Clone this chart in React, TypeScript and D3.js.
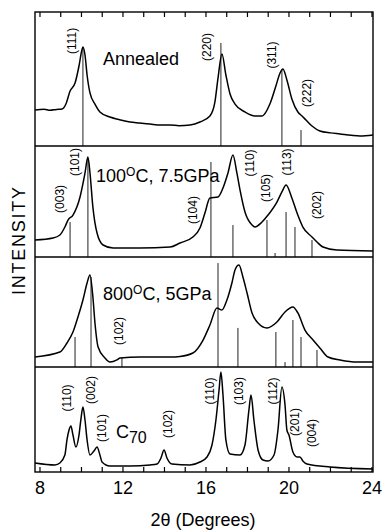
import * as d3 from 'd3';
import React from 'react';

type Pt = [number, number];

// 2-theta (deg) vs intensity (% of panel height)
const annealedCurve: Pt[] = [
  [7.76, 26.9], [8.2, 27.4], [8.48, 26.6], [8.8, 27.3], [9.06, 27.6], [9.25, 31.3], [9.45, 41.0],
  [9.69, 47.0], [9.88, 59.7], [10.02, 71.6], [10.07, 73.9], [10.17, 67.9], [10.27, 53.0],
  [10.41, 39.6], [10.65, 31.3], [10.89, 25.4], [11.37, 21.6], [11.8, 19.8], [12.34, 17.9],
  [12.8, 17.2], [13.3, 16.4], [13.8, 15.6], [14.27, 15.7], [14.7, 15.2], [15.23, 15.7],
  [15.71, 17.9], [16.19, 22.4], [16.43, 32.8], [16.58, 50.7], [16.77, 68.7], [16.96, 53.0],
  [17.16, 38.8], [17.4, 31.3], [17.88, 25.4], [18.36, 22.4], [18.7, 22.4], [19.08, 31.3],
  [19.37, 44.8], [19.57, 54.5], [19.71, 57.5], [19.9, 49.3], [20.14, 35.1], [20.43, 25.4],
  [20.63, 22.4], [20.82, 19.4], [21.11, 14.9], [21.49, 11.2], [22.0, 9.8], [22.46, 9.0],
  [23.0, 8.0], [23.42, 7.5], [24.05, 8.2],
];
const annealedSticks: Pt[] = [[10.07, 73.9], [16.72, 76.9], [19.66, 56.7], [20.58, 11.9]];
const annealedLabels: [string, number, number][] = [
  ['(111)', 9.54, 78.4], ['(220)', 16.05, 73.9], ['(311)', 19.18, 67.9], ['(222)', 20.87, 39.6],
];

const hp100Curve: Pt[] = [
  [7.76, 15.3], [8.63, 17.1], [8.96, 19.8], [9.2, 27.0], [9.35, 33.3], [9.59, 37.8], [9.93, 54.1],
  [10.17, 75.7], [10.31, 90.1], [10.41, 75.7], [10.55, 45.0], [10.75, 21.6], [11.04, 10.8],
  [11.52, 8.1], [12.82, 8.1], [14.27, 9.0], [14.75, 12.6], [15.37, 18.0], [15.71, 26.1],
  [15.95, 39.6], [16.19, 53.2], [16.58, 54.1], [16.82, 62.2], [17.06, 75.7], [17.3, 91.9],
  [17.49, 75.7], [17.64, 60.4], [17.88, 40.5], [18.22, 28.8], [18.36, 27.0], [18.7, 31.5],
  [18.99, 37.8], [19.42, 49.5], [19.66, 58.6], [19.86, 64.9], [20.14, 53.2], [20.39, 39.6],
  [20.67, 27.0], [21.11, 18.0], [21.35, 13.5], [21.64, 9.0], [22.31, 6.3], [24.05, 5.4],
];
const hp100Sticks: Pt[] = [
  [9.45, 31.5], [10.31, 87.4], [16.24, 85.6], [17.3, 28.8], [18.94, 33.3], [19.33, 3.6],
  [19.86, 40.5], [20.29, 27.0], [21.11, 15.3],
];
const hp100Labels: [string, number, number][] = [
  ['(003)', 8.96, 52.3], ['(101)', 9.69, 85.6], ['(104)', 15.37, 42.3], ['(110)', 18.12, 84.7],
  ['(105)', 18.89, 62.2], ['(113)', 19.9, 85.6], ['(202)', 21.35, 46.8],
];

const hp800Curve: Pt[] = [
  [7.76, 9.1], [8.96, 13.6], [9.3, 21.8], [9.59, 31.8], [9.83, 45.5], [10.07, 60.9], [10.27, 76.4],
  [10.41, 83.6], [10.55, 63.6], [10.65, 40.0], [10.8, 18.2], [11.13, 8.2], [11.37, 4.5],
  [11.71, 6.4], [11.86, 8.2], [12.82, 9.1], [14.27, 9.1], [14.75, 9.6], [15.37, 12.7],
  [15.86, 24.5], [16.19, 38.2], [16.53, 53.6], [16.77, 51.8], [17.01, 60.9], [17.25, 76.4],
  [17.4, 88.2], [17.59, 92.7], [17.78, 81.8], [17.98, 67.3], [18.22, 49.1], [18.51, 40.0],
  [18.94, 35.5], [19.42, 40.9], [19.81, 50.0], [20.19, 54.5], [20.43, 49.1], [20.77, 33.6],
  [21.16, 24.5], [21.49, 17.3], [21.88, 9.1], [22.46, 6.4], [23.28, 4.5], [24.05, 4.5],
];
const hp800Sticks: Pt[] = [
  [9.69, 27.3], [10.46, 81.8], [11.95, 8.2], [16.58, 94.5], [17.54, 35.5], [19.37, 31.8],
  [19.81, 4.5], [20.19, 42.7], [20.58, 27.3], [21.35, 15.5],
];
const hp800Labels: [string, number, number][] = [['(102)', 11.81, 32.7]];

const c70Curve: Pt[] = [
  [7.76, 8.6], [8.72, 6.7], [8.96, 8.6], [9.2, 16.2], [9.3, 30.5], [9.4, 40.0], [9.49, 43.8],
  [9.59, 35.2], [9.73, 23.8], [9.88, 35.2], [9.98, 51.4], [10.07, 61.9], [10.17, 49.5],
  [10.27, 30.5], [10.41, 16.2], [10.6, 20.0], [10.75, 23.8], [10.89, 16.2], [10.99, 9.5],
  [11.37, 5.7], [12.34, 5.7], [13.3, 6.7], [13.64, 7.6], [13.83, 13.3], [13.98, 21.0],
  [14.12, 13.3], [14.36, 7.6], [15.23, 6.7], [15.71, 9.5], [16.05, 14.3], [16.29, 25.7],
  [16.48, 49.5], [16.63, 78.1], [16.72, 95.2], [16.82, 73.3], [16.96, 30.5], [17.16, 17.1],
  [17.64, 16.2], [17.88, 25.7], [18.07, 59.0], [18.17, 73.3], [18.31, 49.5], [18.51, 21.0],
  [18.75, 11.4], [18.99, 10.5], [19.28, 16.2], [19.47, 40.0], [19.66, 81.0], [19.81, 63.8],
  [19.9, 40.0], [20.0, 35.2], [20.19, 19.0], [20.39, 14.3], [20.53, 14.3], [20.67, 10.5],
  [20.87, 7.6], [21.98, 4.8], [24.05, 2.9],
];
const c70Labels: [string, number, number][] = [
  ['(110)', 9.3, 70.5], ['(002)', 10.46, 78.1], ['(101)', 10.99, 41.9], ['(102)', 14.17, 45.7],
  ['(110)', 16.19, 77.1], ['(103)', 17.59, 77.1], ['(112)', 19.23, 77.1], ['(201)', 20.29, 47.6],
  ['(004)', 21.11, 37.1],
];

const xTicks = d3.range(8, 25, 1);
const xTickLabels = [8, 12, 16, 20, 24];

const font = '"Liberation Sans", Arial, Helvetica, sans-serif';

const panels = [
  { curve: annealedCurve, sticks: annealedSticks, labels: annealedLabels, title: 'annealed' },
  { curve: hp100Curve, sticks: hp100Sticks, labels: hp100Labels, title: '100' },
  { curve: hp800Curve, sticks: hp800Sticks, labels: hp800Labels, title: '800' },
  { curve: c70Curve, sticks: [] as Pt[], labels: c70Labels, title: 'c70' },
];

const edges = [12, 146, 257, 367, 472];

export default function App() {
  const x = d3.scaleLinear().domain([7.76, 24.05]).range([35, 373]);
  const top = edges[0];
  const bottom = edges[edges.length - 1];

  const renderTitle = (title: string, y: d3.ScaleLinear<number, number>) => {
    if (title === 'annealed')
      return <text x={x(11.04)} y={y(60.4)} fontSize={18}>Annealed</text>;
    if (title === '100')
      return (
        <text x={x(10.7)} y={y(67.6)} fontSize={18}>
          100<tspan fontSize={12} dy={-6}>O</tspan>
          <tspan dy={6}>C, 7.5GPa</tspan>
        </text>
      );
    if (title === '800')
      return (
        <text x={x(11.04)} y={y(60.9)} fontSize={18}>
          800<tspan fontSize={12} dy={-6}>O</tspan>
          <tspan dy={6}>C, 5GPa</tspan>
        </text>
      );
    return (
      <text x={x(11.66)} y={y(32.4)} fontSize={18}>
        C<tspan fontSize={16} dy={5}>70</tspan>
      </text>
    );
  };

  return (
    <svg
      width={385}
      height={531}
      style={{ position: 'absolute', left: 0, top: 0, background: '#fff' }}
      fontFamily={font}
    >
      {panels.map((p, i) => {
        const y = d3.scaleLinear().domain([0, 100]).range([edges[i + 1], edges[i]]);
        const line = d3
          .line<Pt>()
          .x((d) => x(d[0]))
          .y((d) => y(d[1]))
          .curve(d3.curveMonotoneX);
        return (
          <g key={i}>
            {p.sticks.map((s, j) => (
              <line
                key={j}
                x1={x(s[0])}
                x2={x(s[0])}
                y1={y(0)}
                y2={y(s[1])}
                stroke="#222"
                strokeWidth={1}
              />
            ))}
            <path d={line(p.curve) ?? ''} fill="none" stroke="#000" strokeWidth={1.5} />
            {p.labels.map(([t, d, v], j) => (
              <text
                key={j}
                transform={`translate(${x(d) + 4},${y(v)}) rotate(-90)`}
                textAnchor="middle"
                fontSize={12}
              >
                {t}
              </text>
            ))}
            {renderTitle(p.title, y)}
            {i > 0 && (
              <line x1={35} x2={373} y1={edges[i]} y2={edges[i]} stroke="#000" strokeWidth={1.3} />
            )}
          </g>
        );
      })}

      <rect x={35} y={top} width={338} height={bottom - top} fill="none" stroke="#000" strokeWidth={1.4} />

      {xTicks.map((t) => (
        <g key={t}>
          <line x1={x(t)} x2={x(t)} y1={bottom} y2={bottom - 5} stroke="#000" strokeWidth={1.2} />
          <line x1={x(t)} x2={x(t)} y1={top} y2={top + 5} stroke="#000" strokeWidth={1.2} />
        </g>
      ))}
      {xTickLabels.map((t) => (
        <text key={t} x={x(t)} y={494} textAnchor="middle" fontSize={18}>
          {t}
        </text>
      ))}

      <text x={203} y={526} textAnchor="middle" fontSize={18}>
        2θ (Degrees)
      </text>
      <text
        transform="translate(25,241) rotate(-90)"
        textAnchor="middle"
        fontSize={18}
        textLength={108}
        lengthAdjust="spacing"
      >
        INTENSITY
      </text>
    </svg>
  );
}
